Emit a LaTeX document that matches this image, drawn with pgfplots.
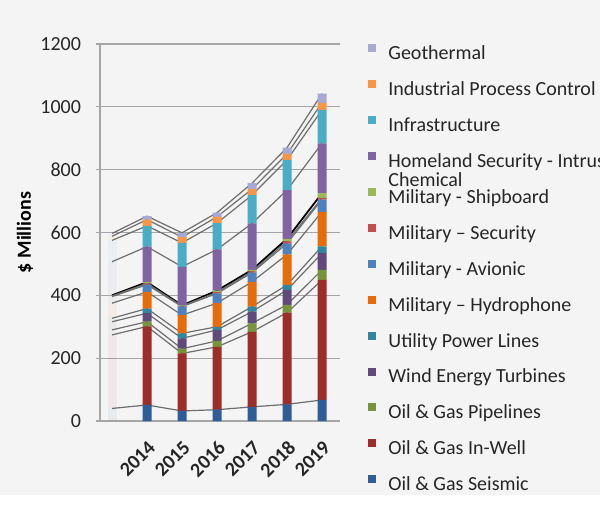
\documentclass[border=0pt]{standalone}
\usepackage{fontspec}
\setmainfont{Carlito}
\usepackage{pgfplots}
\usepackage{pgfplotstable}
\pgfplotsset{compat=1.18}

\definecolor{bgc}{HTML}{F4F4F4}
\definecolor{gridc}{HTML}{A6A6A6}
\definecolor{linec}{HTML}{6E6E6E}
\definecolor{cS}{HTML}{2F5D97}
\definecolor{cIW}{HTML}{9B2D2A}
\definecolor{cP}{HTML}{77933C}
\definecolor{cW}{HTML}{604A7B}
\definecolor{cU}{HTML}{31859C}
\definecolor{cH}{HTML}{E46C0A}
\definecolor{cA}{HTML}{4F81BD}
\definecolor{cSec}{HTML}{C0504D}
\definecolor{cSh}{HTML}{9BBB59}
\definecolor{cHom}{HTML}{8064A2}
\definecolor{cInf}{HTML}{4BACC6}
\definecolor{cInd}{HTML}{F79646}
\definecolor{cGeo}{HTML}{A6A9D3}

% segment values ($ millions); x=0 is the unlabeled faint first column
\pgfplotstableread{
x S IW P W U H A Sec Sh Hom Inf Ind Geo
0 40 234 16 26 11 48 21 2 2 107 68 13 9
1 51 250 15 27 15 53 23 4 4 113 66 20 11
2 32 183 15 33 16 58 27 2 2 123 76 18 14
3 36 200 19 35 10 75 31 4 5 131 84 20 13
4 45 239 27 37 16 79 29 4 5 148 90 19 19
5 53 292 25 47 16 97 35 7 8 155 96 19 20
6 67 382 32 53 22 110 39 5 15 159 106 23 29
}\datatable

\pgfplotsset{
  base/.style={scale only axis, width=120pt, height=188.5pt,
    xmin=-0.343, xmax=6.514, ymin=0, ymax=1200},
  sqleg/.style={legend image code/.code={\fill[##1] (0pt,1.2pt) rectangle (4pt,5.2pt);}},
  serline/.style={color=linec, line width=0.6pt, no marks, sharp plot},
}

\begin{document}
\begin{tikzpicture}
\fill[bgc] (-50pt,-37pt) rectangle (250pt,210.5pt);
\fill[white] (-50pt,-53pt) rectangle (250pt,-37pt);

% axis with grid, ticks and series lines
\begin{axis}[base,
  axis x line*=bottom, axis y line*=left,
  axis line style={gridc, line width=0.6pt},
  ytick={0,200,...,1200},
  xtick={1,...,6}, xticklabels={2014,2015,2016,2017,2018,2019},
  major x tick style={draw=none},
  y tick style={gridc, line width=0.6pt},
  tick align=outside, major tick length=2pt,
  ymajorgrids, grid style={gridc, line width=0.6pt},
  /pgf/number format/assume math mode=true,
  /pgf/number format/1000 sep={},
  yticklabel style={font=\fontsize{10}{12}\selectfont, text=black!85, xshift=-4pt},
  xticklabel style={rotate=45, anchor=north east, font=\bfseries\fontsize{10}{12}\selectfont, text=black!85, inner sep=1pt, yshift=-4pt, xshift=-4pt},
  ylabel={\bfseries \$ Millions},
  ylabel style={font=\fontsize{6.7}{8}\selectfont},
  every axis y label/.style={at={(axis description cs:-0.3125,0.5)}, rotate=90, anchor=center},
  stack plots=y,
]
\addplot[serline] table[x=x,y=S]{\datatable};
\addplot[serline] table[x=x,y=IW]{\datatable};
\addplot[serline] table[x=x,y=P]{\datatable};
\addplot[serline] table[x=x,y=W]{\datatable};
\addplot[serline] table[x=x,y=U]{\datatable};
\addplot[serline] table[x=x,y=H]{\datatable};
\addplot[serline] table[x=x,y=A]{\datatable};
\addplot[serline] table[x=x,y=Sec]{\datatable};
\addplot[serline, color=black, line width=0.9pt] table[x=x,y=Sh]{\datatable};
\addplot[serline] table[x=x,y=Hom]{\datatable};
\addplot[serline] table[x=x,y=Inf]{\datatable};
\addplot[serline] table[x=x,y=Ind]{\datatable};
\addplot[serline] table[x=x,y=Geo]{\datatable};
\end{axis}

% faint first column
\begin{axis}[base, hide axis, ybar stacked, bar width=4.5pt,
  restrict x to domain=-0.5:0.5,
  every axis plot/.append style={draw=none, fill opacity=0.06}]
\addplot[fill=cS] table[x=x,y=S]{\datatable};
\addplot[fill=cIW] table[x=x,y=IW]{\datatable};
\addplot[fill=cP] table[x=x,y=P]{\datatable};
\addplot[fill=cW] table[x=x,y=W]{\datatable};
\addplot[fill=cU] table[x=x,y=U]{\datatable};
\addplot[fill=cH] table[x=x,y=H]{\datatable};
\addplot[fill=cA] table[x=x,y=A]{\datatable};
\addplot[fill=cSec] table[x=x,y=Sec]{\datatable};
\addplot[fill=cSh] table[x=x,y=Sh]{\datatable};
\addplot[fill=cHom] table[x=x,y=Hom]{\datatable};
\addplot[fill=cInf] table[x=x,y=Inf]{\datatable};
\addplot[fill=cInd] table[x=x,y=Ind]{\datatable};
\addplot[fill=cGeo] table[x=x,y=Geo]{\datatable};
\end{axis}

% main stacked columns with legend
\begin{axis}[base, hide axis, ybar stacked, bar width=4.5pt,
  restrict x to domain=0.5:6.5,
  every axis plot/.append style={draw=none, sqleg},
  reverse legend,
  legend cell align=left,
  legend style={at={(axis description cs:1.0917,1.0106)}, anchor=north west,
    draw=none, fill=none, font=\fontsize{10}{12}\selectfont, text=black!85,
    nodes={text height=7.5pt, text depth=2.5pt, inner sep=0pt},
    row sep=7.75pt, column sep=6pt},
]
\addplot[fill=cS] table[x=x,y=S]{\datatable};
\addlegendentry{Oil \& Gas Seismic}
\addplot[fill=cIW] table[x=x,y=IW]{\datatable};
\addlegendentry{Oil \& Gas In-Well}
\addplot[fill=cP] table[x=x,y=P]{\datatable};
\addlegendentry{Oil \& Gas Pipelines}
\addplot[fill=cW] table[x=x,y=W]{\datatable};
\addlegendentry{Wind Energy Turbines}
\addplot[fill=cU] table[x=x,y=U]{\datatable};
\addlegendentry{Utility Power Lines}
\addplot[fill=cH] table[x=x,y=H]{\datatable};
\addlegendentry{Military – Hydrophone}
\addplot[fill=cA] table[x=x,y=A]{\datatable};
\addlegendentry{Military - Avionic}
\addplot[fill=cSec] table[x=x,y=Sec]{\datatable};
\addlegendentry{Military – Security}
\addplot[fill=cSh] table[x=x,y=Sh]{\datatable};
\addlegendentry{Military - Shipboard}
\addplot[fill=cHom] table[x=x,y=Hom]{\datatable};
\addlegendentry{\smash{\begin{tabular}[t]{@{}l@{}}Homeland Security - Intrusion,\\[-2.5pt]Chemical\end{tabular}}}
\addplot[fill=cInf] table[x=x,y=Inf]{\datatable};
\addlegendentry{Infrastructure}
\addplot[fill=cInd] table[x=x,y=Ind]{\datatable};
\addlegendentry{Industrial Process Control}
\addplot[fill=cGeo] table[x=x,y=Geo]{\datatable};
\addlegendentry{Geothermal}
\end{axis}

\pgfresetboundingbox
\useasboundingbox (-50pt,-53pt) rectangle (250pt,210.5pt);
\end{tikzpicture}
\end{document}
